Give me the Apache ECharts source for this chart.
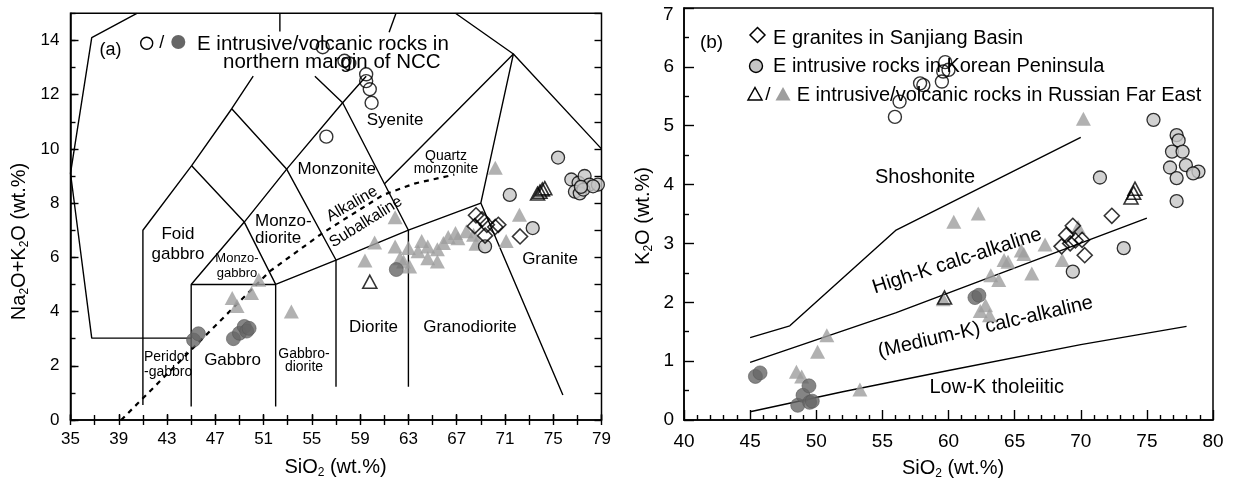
<!DOCTYPE html>
<html>
<head>
<meta charset="utf-8">
<script src="https://cdn.jsdelivr.net/npm/echarts@6/dist/echarts.min.js"></script>
<style>
html,body{margin:0;padding:0;background:#fff}
#chart{width:1234px;height:486px}
</style>
</head>
<body>
<div id="chart"></div>
<script>
const FONT = 'Liberation Sans, Arial, sans-serif';

// ---------- (a) TAS: Na2O+K2O vs SiO2 ----------
const tasNccIntrusive = [[55.9,13.75],[57.7,13.25],[58.1,13.15],[59.5,12.75],[59.5,12.5],[59.8,12.2],[59.95,11.7],[56.2,10.45]];
const tasNccVolcanic = [[45.2,2.95],[45.6,3.18],[48.5,3.0],[49.0,3.2],[49.4,3.45],[49.6,3.28],[49.8,3.38],[62.0,5.55]];
const tasKorea = [[69.35,6.4],[71.4,8.3],[73.3,7.08],[75.4,9.68],[76.5,8.87],[77.1,8.75],[77.6,9.0],[78.0,8.68],[78.7,8.68],[76.8,8.42],[77.2,8.36],[77.5,8.5],[78.3,8.62],[77.3,8.6]];
const tasSanjiang = [[68.6,7.55],[68.5,7.15],[69.1,7.4],[69.5,7.2],[70.2,7.12],[70.45,7.2],[69.35,6.8],[72.25,6.77]];
const tasRfeIntrusive = [[59.8,5.1],[73.7,8.35],[73.9,8.42],[74.1,8.5],[74.3,8.55]];
const tasRfeVolcanic = [[48.4,4.5],[48.8,4.2],[50.0,4.68],[50.6,5.17],[53.3,4.0],[59.4,5.88],[60.2,6.55],[61.9,7.48],[61.9,6.4],[62.3,5.97],[62.6,5.85],[63.0,6.34],[63.1,5.66],[63.8,6.22],[64.1,6.6],[64.6,6.4],[64.6,5.97],[65.4,6.3],[65.4,5.85],[65.9,6.53],[66.3,6.75],[66.9,6.9],[67.1,6.7],[67.8,6.96],[68.4,6.83],[68.6,6.5],[70.2,9.3],[71.1,6.6],[72.2,7.57]];

// classification field boundaries (visible segments)
const tasOuter = [[40.5,15],[36.76,14.1],[35,9.1],[36.76,3.02],[45,3.02]];
const tasFoidGabbroTop = [[41,0.55],[41,7],[45.04,9.38],[48.36,11.48],[50.14,12.68]];
const tasGabbroLeft = [[45,0.5],[45,5],[52,5]];
const tasGabbroRight = [[52,0.5],[52,5],[57,5.9],[63,7],[69,8]];
const tasMonzoDiag = [[45,5],[49.4,7.3],[53,9.3],[57.55,11.7],[59.5,12.68]];
const tasFoidMonzo = [[45.04,9.38],[49.4,7.3],[52,5]];
const tasMonzodioriteRight = [[48.36,11.48],[52.9,9.26],[57,5.9],[57,1.23]];
const tasMonzoniteRight = [[55.25,12.68],[57.55,11.7],[63,7],[63,1.23]];
const tasQuartzMonzonite = [[61,8.7],[71.7,13.5],[79,10.0]];
const tasGraniteLeft = [[66.9,15],[71.7,13.5],[69,8],[75.8,0.92]];
const tasFoidSyeniteTop = [[52.35,15],[52.35,14.33]];
const tasSyeniteTop = [[61.97,15],[61.4,14.3]];
const tasAlkalineDivide = [[39.2,0],[51.5,5.48],[55.9,6.9],[60.9,8.3],[63.5,8.72],[66.8,9.05]];

// ---------- (b) K2O vs SiO2 ----------
const kNccIntrusive = [[55.95,5.15],[56.3,5.41],[57.85,5.72],[58.1,5.69],[59.5,5.75],[59.6,5.92],[59.75,6.08],[60.0,5.95]];
const kNccVolcanic = [[45.4,0.74],[45.75,0.8],[48.6,0.25],[49.0,0.42],[49.45,0.58],[49.5,0.3],[49.7,0.32],[62.0,2.08],[62.3,2.12]];
const kKorea = [[75.5,5.1],[77.25,4.84],[77.4,4.75],[76.9,4.56],[77.7,4.56],[76.75,4.29],[77.95,4.33],[78.9,4.22],[78.5,4.19],[77.25,4.11],[77.25,3.72],[71.45,4.12],[73.25,2.92],[69.4,2.52]];
const kSanjiang = [[69.4,3.3],[68.9,3.14],[68.55,2.95],[69.6,3.05],[70.1,3.06],[70.3,2.8],[69.2,3.0],[72.35,3.47]];
const kRfeIntrusive = [[59.7,2.08],[73.8,3.78],[74.0,3.86],[74.1,3.93]];
const kRfeVolcanic = [[48.5,0.82],[48.9,0.74],[50.1,1.16],[50.8,1.44],[53.3,0.52],[59.6,2.05],[60.4,3.37],[62.25,3.51],[62.4,1.85],[62.8,1.95],[63.1,1.78],[63.2,2.46],[63.8,2.38],[64.2,2.72],[64.5,2.69],[65.5,2.88],[65.7,2.82],[66.3,2.49],[67.3,2.98],[68.6,2.72],[69.8,3.28],[70.2,5.12]];

const kShoshoniteLine = [[45,1.4],[48,1.6],[56,3.22],[70,4.8]];
const kHighKLine = [[45,0.98],[56,1.82],[75,3.43]];
const kLowKLine = [[45,0.14],[52,0.48],[60,0.84],[70,1.28],[78,1.59]];

// ---------- styles ----------
const HOLLOW = 'rgba(255,255,255,0)';
const styles = {
  hollowCircle: {symbol:'circle', symbolSize:13, itemStyle:{color:HOLLOW, borderColor:'#000', borderWidth:1.4}},
  darkCircle: {symbol:'circle', symbolSize:14, itemStyle:{color:'#666', borderColor:'#5a5a5a', borderWidth:0.8}},
  greyCircle: {symbol:'circle', symbolSize:13, itemStyle:{color:'#c6c6c6', borderColor:'#000', borderWidth:1.3}},
  diamond: {symbol:'diamond', symbolSize:[15,15], itemStyle:{color:HOLLOW, borderColor:'#000', borderWidth:1.6}},
  hollowTri: {symbol:'triangle', symbolSize:[14,13], itemStyle:{color:HOLLOW, borderColor:'#000', borderWidth:1.6}},
  greyTri: {symbol:'triangle', symbolSize:[15,14], itemStyle:{color:'#9e9e9e'}}
};

function pts(data, st, xi, yi, z) {
  return Object.assign({type:'scatter', data, xAxisIndex:xi, yAxisIndex:yi, z, animation:false, silent:true}, JSON.parse(JSON.stringify(st)));
}
function boundary(data, xi, yi, dashed) {
  return {type:'line', data, xAxisIndex:xi, yAxisIndex:yi, symbol:'none', z:2, animation:false, silent:true,
    lineStyle:{color:'#000', width: dashed ? 2.2 : 1.4, type: dashed ? [5,5] : 'solid'}};
}

const series = [];
// panel (a)
[tasOuter,tasFoidGabbroTop,tasGabbroLeft,tasGabbroRight,tasMonzoDiag,tasFoidMonzo,tasMonzodioriteRight,
 tasMonzoniteRight,tasQuartzMonzonite,tasGraniteLeft,tasFoidSyeniteTop,tasSyeniteTop].forEach(l => series.push(boundary(l,0,0,false)));
series.push(boundary(tasAlkalineDivide,0,0,true));
series.push(pts(tasRfeVolcanic, styles.greyTri, 0, 0, 3));
series.push(pts(tasKorea, styles.greyCircle, 0, 0, 4));
series.push(pts(tasNccVolcanic, styles.darkCircle, 0, 0, 4));
series.push(pts(tasSanjiang, styles.diamond, 0, 0, 5));
series.push(pts(tasNccIntrusive, styles.hollowCircle, 0, 0, 6));
series.push(pts(tasRfeIntrusive, styles.hollowTri, 0, 0, 6));
// panel (b)
[kShoshoniteLine,kHighKLine,kLowKLine].forEach(l => series.push(boundary(l,3,3,false)));
series.push(pts(kRfeVolcanic, styles.greyTri, 3, 3, 3));
series.push(pts(kKorea, styles.greyCircle, 3, 3, 4));
series.push(pts(kNccVolcanic, styles.darkCircle, 3, 3, 4));
series.push(pts(kSanjiang, styles.diamond, 3, 3, 5));
series.push(pts(kNccIntrusive, styles.hollowCircle, 3, 3, 6));
series.push(pts(kRfeIntrusive, styles.hollowTri, 3, 3, 6));

// ---------- axes ----------
const black = {color:'#000', width:1.4};
function tickAxis(extra) {
  return Object.assign({type:'value', splitLine:{show:false}, axisLine:{show:false},
    axisLabel:{show:false}, axisTick:{show:true, inside:true, length:5, lineStyle:black}}, extra);
}
const xAxis = [
  {gridIndex:0, type:'value', min:35, max:79, interval:4, position:'bottom',
   axisLine:{show:true, onZero:false, lineStyle:{color:'#000', width:1.5}},
   axisTick:{inside:true, length:6, lineStyle:black},
   axisLabel:{fontSize:17, margin:11, color:'#000', fontFamily:FONT},
   splitLine:{show:false}},
  tickAxis({gridIndex:0, min:35, max:79, interval:2, position:'top'}),
  tickAxis({gridIndex:0, min:35, max:79, interval:2, position:'bottom'}),
  {gridIndex:1, type:'value', min:40, max:80, interval:5, position:'bottom',
   axisLine:{show:true, onZero:false, lineStyle:{color:'#000', width:1.5}},
   axisTick:{inside:true, length:10, lineStyle:black},
   minorTick:{show:true, splitNumber:5, length:5, lineStyle:black},
   axisLabel:{fontSize:19, margin:12, color:'#000', fontFamily:FONT},
   splitLine:{show:false}, minorSplitLine:{show:false}}
];
const yAxis = [
  {gridIndex:0, type:'value', min:0, max:15, interval:2, position:'left',
   axisLine:{show:true, onZero:false, lineStyle:{color:'#000', width:1.5}},
   axisTick:{inside:true, length:8, lineStyle:black},
   axisLabel:{fontSize:17, margin:11, color:'#000', fontFamily:FONT, showMaxLabel:false},
   splitLine:{show:false}},
  tickAxis({gridIndex:0, min:0, max:15, interval:1, position:'right', axisTick:{show:true, inside:true, length:7, lineStyle:black}}),
  tickAxis({gridIndex:0, min:0, max:15, interval:1, position:'left'}),
  {gridIndex:1, type:'value', min:0, max:7, interval:1, position:'left',
   axisLine:{show:true, onZero:false, lineStyle:{color:'#000', width:1.5}},
   axisTick:{inside:true, length:10, lineStyle:black},
   minorTick:{show:true, splitNumber:2, length:5, lineStyle:black},
   // the top value is set a little lower, as a separate text below
   axisLabel:{fontSize:19, margin:10, color:'#000', fontFamily:FONT, showMaxLabel:false},
   splitLine:{show:false}, minorSplitLine:{show:false}}
];

// ---------- free text, titles and legend keys ----------
function txt(x, y, text, size, opt) {
  opt = opt || {};
  return {type:'text', x, y, z: 1, rotation: (opt.rot || 0) * Math.PI / 180, silent:true,
    style:{text, fill:'#000', fontSize:size, fontFamily:FONT, align: opt.align || 'center',
      verticalAlign:'middle', lineHeight: opt.lh || size * 1.15,
      rich: {sub: {fontSize: Math.round(size * 0.62), fontFamily:FONT, verticalAlign:'bottom', lineHeight: size * 1.15, fill:'#000'}}}};
}
function circleKey(cx, cy, r, fill, stroke) {
  return {type:'circle', z:5, silent:true, shape:{cx, cy, r}, style:{fill, stroke, lineWidth:1.4}};
}
function polyKey(points, fill, stroke) {
  return {type:'polygon', z:5, silent:true, shape:{points}, style:{fill, stroke, lineWidth:1.5}};
}

const graphic = [
  // panel (a)
  txt(110.5, 50, '(a)', 18),
  circleKey(146.7, 43.3, 6, 'none', '#000'),
  txt(161.7, 43, '/', 18),
  circleKey(178.3, 42, 7, '#666', null),
  txt(197, 44, 'E intrusive/volcanic rocks in', 20.5, {align:'left'}),
  txt(223, 62.5, 'northern margin of NCC', 20.5, {align:'left'}),
  txt(395, 120, 'Syenite', 17),
  txt(336.7, 169, 'Monzonite', 17),
  txt(255, 230, 'Monzo-\ndiorite', 17, {align:'left', lh:17}),
  txt(178, 244, 'Foid\ngabbro', 17, {lh:20}),
  txt(237, 265.5, 'Monzo-\ngabbro', 13, {lh:15}),
  txt(352, 204, 'Alkaline', 16, {rot:30}),
  txt(366, 222, 'Subalkaline', 16, {rot:32}),
  txt(446, 162.5, 'Quartz\nmonzonite', 14, {lh:13}),
  txt(144, 364.5, 'Peridot\n-gabbro', 14, {align:'left', lh:15}),
  txt(232.5, 360, 'Gabbro', 17),
  txt(304, 361, 'Gabbro-\ndiorite', 14, {lh:13}),
  txt(373.5, 327, 'Diorite', 17),
  txt(470, 327, 'Granodiorite', 17),
  txt(550, 259, 'Granite', 17),
  txt(335.5, 467, 'SiO{sub|2} (wt.%)', 20),
  txt(19, 241.5, 'Na{sub|2}O+K{sub|2}O (wt.%)', 20, {rot:90}),
  // panel (b)
  txt(673.5, 15, '7', 19, {align:'right'}),
  txt(711.5, 43, '(b)', 19),
  polyKey([[757.5,27.5],[765,35],[757.5,42.5],[750,35]], 'none', '#000'),
  txt(773, 38, 'E granites in Sanjiang Basin', 20, {align:'left'}),
  circleKey(756, 66, 6.5, '#c6c6c6', '#000'),
  txt(773, 66.5, 'E intrusive rocks in Korean Peninsula', 20, {align:'left'}),
  polyKey([[755,87.5],[762,100],[748,100]], 'none', '#000'),
  txt(768, 95, '/', 19),
  polyKey([[783,87],[790.5,100.5],[775.5,100.5]], '#9e9e9e', null),
  txt(796.7, 95, 'E intrusive/volcanic rocks in Russian Far East', 20, {align:'left'}),
  txt(925, 177.5, 'Shoshonite', 20),
  txt(957, 261, 'High-K calc-alkaline', 20, {rot:18}),
  txt(985.5, 327, '(Medium-K) calc-alkaline', 20, {rot:13}),
  txt(996.7, 387.5, 'Low-K tholeiitic', 20),
  txt(953, 468, 'SiO{sub|2} (wt.%)', 20),
  txt(643, 216, 'K{sub|2}O (wt.%)', 20, {rot:90})
];

const chart = echarts.init(document.getElementById('chart'), null, {renderer:'canvas'});
chart.setOption({
  backgroundColor:'#fff',
  animation:false,
  grid:[
    {left:70.5, top:13.3, width:531, height:406.7, show:true, borderColor:'#000', borderWidth:1.5, backgroundColor:'rgba(0,0,0,0)'},
    {left:684, top:8, width:529, height:412, show:true, borderColor:'#000', borderWidth:1.5, backgroundColor:'rgba(0,0,0,0)'}
  ],
  xAxis, yAxis, series, graphic
});
</script>
</body>
</html>
